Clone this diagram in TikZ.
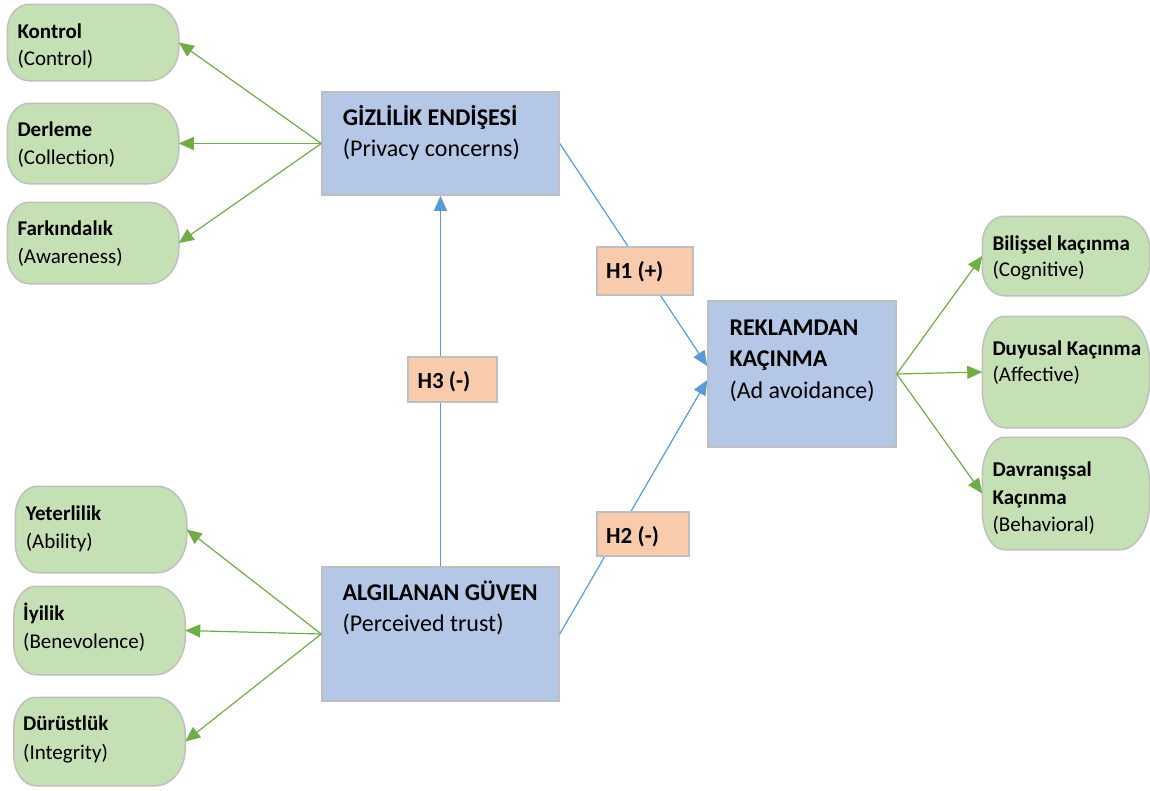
\documentclass[tikz,border=0pt]{standalone}
\usepackage{fontspec}
\setmainfont{Carlito}
\usetikzlibrary{arrows.meta,calc}

\definecolor{leafgreen}{HTML}{C5E0B4}
\definecolor{skyblue}{HTML}{B4C7E7}
\definecolor{peach}{HTML}{F8CBAD}
\definecolor{edgegrey}{HTML}{BFBFBF}
\definecolor{linkblue}{HTML}{5B9BD5}
\definecolor{linkgreen}{HTML}{70AD47}

\tikzset{
  leafbase/.style={inner sep=0pt, outer sep=0.75pt},
  leaf/.style={draw=edgegrey, fill=leafgreen, line width=1.5pt},
  concept/.style={draw=edgegrey, fill=skyblue, line width=1.5pt, inner sep=0pt},
  hypo/.style={draw=edgegrey, fill=peach, line width=1.5pt, inner sep=0pt},
  txt/.style={anchor=base west, inner sep=0pt, font=\fontsize{21}{25}\selectfont},
  btxt/.style={txt, font=\fontsize{21}{25}\selectfont\bfseries},
  bigtxt/.style={anchor=base west, inner sep=0pt, font=\fontsize{24}{29}\selectfont},
  bigbtxt/.style={bigtxt, font=\fontsize{24}{29}\selectfont\bfseries},
  htxt/.style={anchor=base west, inner sep=0pt, font=\fontsize{23}{28}\selectfont\bfseries},
  greenlink/.style={draw=linkgreen, line width=1.2pt, -{Triangle[length=15pt,width=13pt]}},
  bluelink/.style={draw=linkblue, line width=1.2pt, -{Triangle[length=15pt,width=13pt]}},
}

% green dimension box: name, centre x, centre y, width, height
% (elliptic corners, rounder on the right than on the left)
\newcommand\greenblob[5]{%
  \node[leafbase, minimum width=#4pt, minimum height=#5pt] (#1) at (#2,#3) {};
  \pgfmathsetmacro\ryR{0.43*#5}%
  \pgfmathsetmacro\ryL{0.35*#5}%
  \filldraw[leaf] ([xshift=22pt]#1.north west) -- ([xshift=-30pt]#1.north east)
    arc[start angle=90, end angle=0, x radius=30pt, y radius=\ryR pt]
    -- ([yshift=\ryR pt]#1.south east)
    arc[start angle=0, end angle=-90, x radius=30pt, y radius=\ryR pt]
    -- ([xshift=22pt]#1.south west)
    arc[start angle=270, end angle=180, x radius=22pt, y radius=\ryL pt]
    -- ([yshift=-\ryL pt]#1.north west)
    arc[start angle=180, end angle=90, x radius=22pt, y radius=\ryL pt] -- cycle;
}

\begin{document}
\begin{tikzpicture}[x=1pt,y=-1pt]
\useasboundingbox (0,0) rectangle (1150,790);

% dimensions of privacy concerns
\greenblob{kon}{93}{42.5}{170}{75}
\greenblob{der}{93}{143.5}{170}{79}
\greenblob{far}{93}{243}{170}{80}
% dimensions of perceived trust
\greenblob{yet}{101}{529.5}{170}{85}
\greenblob{iyi}{99.5}{630.5}{170}{87}
\greenblob{dur}{99.5}{741.5}{170}{87}
% dimensions of ad avoidance
\greenblob{bil}{1066}{256}{166}{78}
\greenblob{duy}{1066}{372}{166}{110}
\greenblob{dav}{1066}{493.5}{166}{111}

% main constructs
\node[concept, minimum width=237pt, minimum height=103pt] (giz) at (440.5,143.5) {};
\node[concept, minimum width=237pt, minimum height=134pt] (alg) at (440.5,634) {};
\node[concept, minimum width=188pt, minimum height=146pt] (rek) at (802,374) {};

% measurement links
\draw[greenlink] (giz.west) -- (kon.east);
\draw[greenlink] (giz.west) -- (der.east);
\draw[greenlink] (giz.west) -- (far.east);
\draw[greenlink] (alg.west) -- (yet.east);
\draw[greenlink] (alg.west) -- (iyi.east);
\draw[greenlink] (alg.west) -- (dur.east);
\draw[greenlink] (rek.east) -- (bil.west);
\draw[greenlink] (rek.east) -- (duy.west);
\draw[greenlink] (rek.east) -- (dav.west);

% structural paths
\draw[bluelink] (alg.north) -- (giz.south);
\draw[bluelink] (giz.east) -- ($(rek.west)+(0,-8)$);
\draw[bluelink] (alg.east) -- ($(rek.west)+(0,6)$);

% hypothesis labels sit on top of the paths
\node[hypo, minimum width=96pt, minimum height=48pt] (h1) at (645,271) {};
\node[hypo, minimum width=89pt, minimum height=45pt] (h3) at (452.5,379.5) {};
\node[hypo, minimum width=92pt, minimum height=44pt] (h2) at (643,534) {};
\node[htxt] (h1-t) at (606,278.3) {H1 (+)};
\node[htxt] (h3-t) at (417.3,388.3) {H3 (-)};
\node[htxt] (h2-t) at (606,543.3) {H2 (-)};

% texts of the constructs
\node[bigbtxt] (giz-a) at (342.7,125) {GİZLİLİK ENDİŞESİ};
\node[bigtxt]  (giz-b) at (342.7,156) {(Privacy concerns)};
\node[bigbtxt] (alg-a) at (342.5,600) {ALGILANAN GÜVEN};
\node[bigtxt]  (alg-b) at (342.5,631.7) {(Perceived trust)};
\node[bigbtxt] (rek-a) at (729.3,335) {REKLAMDAN};
\node[bigbtxt] (rek-b) at (729.3,366.7) {KAÇINMA};
\node[bigtxt]  (rek-c) at (729.3,398) {(Ad avoidance)};

% texts of the dimensions
\node[btxt] (kon-a) at (17.3,38.3) {Kontrol};
\node[txt]  (kon-b) at (17.3,65) {(Control)};
\node[btxt] (der-a) at (17.3,136.7) {Derleme};
\node[txt]  (der-b) at (17.3,164) {(Collection)};
\node[btxt] (far-a) at (17.3,235) {Farkındalık};
\node[txt]  (far-b) at (17.3,263.3) {(Awareness)};
\node[btxt] (yet-a) at (25.6,520) {Yeterlilik};
\node[txt]  (yet-b) at (25.6,548.3) {(Ability)};
\node[btxt] (iyi-a) at (23,620) {İyilik};
\node[txt]  (iyi-b) at (23,648) {(Benevolence)};
\node[btxt] (dur-a) at (23,730.7) {Dürüstlük};
\node[txt]  (dur-b) at (23,759) {(Integrity)};
\node[btxt] (bil-a) at (992.3,250) {Bilişsel kaçınma};
\node[txt]  (bil-b) at (992.3,276.7) {(Cognitive)};
\node[btxt] (duy-a) at (992.3,355) {Duyusal Kaçınma};
\node[txt]  (duy-b) at (992.3,381.7) {(Affective)};
\node[btxt] (dav-a) at (992.3,476) {Davranışsal};
\node[btxt] (dav-b) at (992.3,504) {Kaçınma};
\node[txt]  (dav-c) at (992.3,531.7) {(Behavioral)};
\end{tikzpicture}
\end{document}
